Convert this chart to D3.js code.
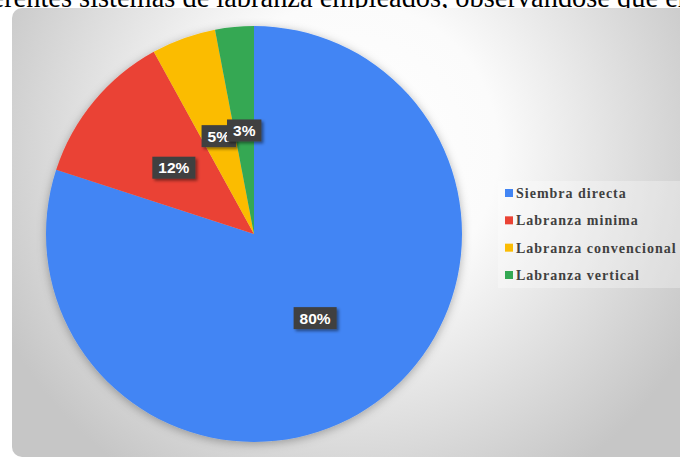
<!DOCTYPE html>
<html>
<head>
<meta charset="utf-8">
<script src="https://cdn.jsdelivr.net/npm/d3@7"></script>
<style>
  html, body { margin: 0; padding: 0; background: #ffffff; }
  svg { display: block; }
</style>
</head>
<body>
<svg id="chart" width="680" height="460"></svg>
<script>
// Tillage systems and their share of the surveyed area (percent)
const categories = ["Siembra directa", "Labranza minima", "Labranza convencional", "Labranza vertical"];
const values = [80, 12, 5, 3];
const colors = ["#4285F4", "#EA4335", "#FBBC04", "#34A853"];
const bodyText = "ferentes sistemas de labranza empleados, observándose que en";

const W = 680, H = 460;
const svg = d3.select("#chart");
const defs = svg.append("defs");

// Chart-area background: soft radial grey gradient
const bg = defs.append("radialGradient")
  .attr("id", "bgGrad").attr("gradientUnits", "userSpaceOnUse")
  .attr("cx", 350).attr("cy", 150).attr("r", 390);
bg.append("stop").attr("offset", 0).attr("stop-color", "#ffffff");
bg.append("stop").attr("offset", 0.38).attr("stop-color", "#fbfbfb");
bg.append("stop").attr("offset", 1).attr("stop-color", "#c6c6c6");

const pieShadow = defs.append("filter").attr("id", "pieShadow")
  .attr("x", "-20%").attr("y", "-20%").attr("width", "140%").attr("height", "140%");
pieShadow.append("feDropShadow").attr("dx", 0).attr("dy", 2)
  .attr("stdDeviation", 5).attr("flood-color", "#000").attr("flood-opacity", 0.3);

const labelShadow = defs.append("filter").attr("id", "labelShadow")
  .attr("x", "-30%").attr("y", "-30%").attr("width", "160%").attr("height", "160%");
labelShadow.append("feDropShadow").attr("dx", 2).attr("dy", 2)
  .attr("stdDeviation", 1.5).attr("flood-color", "#000").attr("flood-opacity", 0.45);

// Running text of the page above the chart (partly cut off at the top)
const txt = svg.append("text")
  .attr("font-family", "'Liberation Serif', 'Times New Roman', serif")
  .attr("font-size", 100).attr("fill", "#000").attr("y", 7);
// size the line so that the word span matches the page layout
const probe = svg.append("text").attr("font-family", "'Liberation Serif', serif").attr("font-size", 100);
function w(s) { probe.text(s); return probe.node().getComputedTextLength(); }
const span = w("sistemas de labranza empleados, observándose ");
const fs = 100 * (603 - 72) / span;
const lead = w("ferentes ") * fs / 100;
probe.remove();
txt.attr("font-size", fs).attr("x", 72 - lead).text(bodyText);

// Chart area box
svg.append("rect")
  .attr("x", 12).attr("y", 8).attr("width", 720).attr("height", 449)
  .attr("rx", 10).attr("ry", 10)
  .attr("fill", "url(#bgGrad)");

// Pie
const cx = 254, cy = 234, R = 208;
const pie = d3.pie().sort(null).value(d => d)(values);
const arc = d3.arc().innerRadius(0).outerRadius(R);

const g = svg.append("g").attr("transform", `translate(${cx},${cy})`);
g.append("g").attr("filter", "url(#pieShadow)")
  .selectAll("path").data(pie).join("path")
  .attr("d", arc)
  .attr("fill", (d, i) => colors[i]);

// Data labels: dark boxes at half radius
const lab = g.selectAll("g.lab").data(pie).join("g").attr("class", "lab")
  .attr("transform", d => `translate(${arc.centroid(d)})`);
lab.each(function(d) {
  const s = d3.select(this);
  const t = s.append("text")
    .attr("text-anchor", "middle").attr("dy", "0.36em")
    .attr("font-family", "'Liberation Sans', Arial, sans-serif")
    .attr("font-weight", "bold").attr("font-size", 15.5)
    .attr("fill", "#ffffff")
    .text(d.data + "%");
  const tw = t.node().getComputedTextLength();
  s.insert("rect", "text")
    .attr("x", -tw / 2 - 6).attr("y", -11)
    .attr("width", tw + 12).attr("height", 22)
    .attr("fill", "#404040")
    .attr("filter", "url(#labelShadow)");
});

// Legend
const lg = svg.append("g");
lg.append("rect").attr("x", 498).attr("y", 181).attr("width", 200).attr("height", 107)
  .attr("fill", "#ffffff").attr("fill-opacity", 0.3);
const rowY = d3.scalePoint().domain(categories).range([193, 275]);
const items = lg.selectAll("g.item").data(categories).join("g").attr("class", "item")
  .attr("transform", d => `translate(505,${rowY(d)})`);
items.append("rect").attr("x", 0).attr("y", -4).attr("width", 8).attr("height", 8)
  .attr("fill", (d, i) => colors[i]);
items.append("text").attr("x", 11).attr("dy", "0.35em")
  .attr("font-family", "'Liberation Serif', 'Times New Roman', serif")
  .attr("font-weight", "bold").attr("font-size", 14).attr("letter-spacing", 1)
  .attr("fill", "#404040")
  .text(d => d);
</script>
</body>
</html>
